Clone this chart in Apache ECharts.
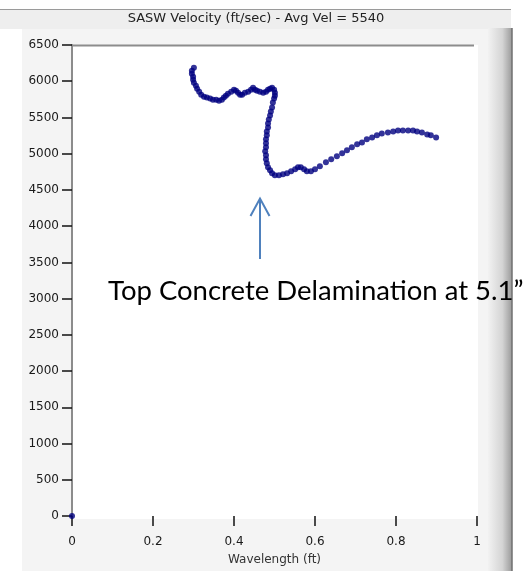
<!DOCTYPE html>
<html>
<head>
<meta charset="utf-8">
<script src="https://cdn.jsdelivr.net/npm/echarts@6/dist/echarts.min.js"></script>
<style>
  html, body { margin: 0; padding: 0; background: #fff; }
  #chart { width: 527px; height: 571px; }
</style>
</head>
<body>
<div id="chart"></div>
<script>
// SASW dispersion curve
const wavelength = [
  0,
  0.301, 0.296, 0.296, 0.299, 0.299, 0.301, 0.306, 0.309, 0.314, 0.319, 0.326, 0.333, 0.341, 0.348,
  0.356, 0.363, 0.370, 0.375, 0.380, 0.385, 0.393, 0.400, 0.405, 0.410, 0.415, 0.420, 0.427, 0.435,
  0.442, 0.447, 0.452, 0.457, 0.464, 0.472, 0.479, 0.484, 0.489, 0.494, 0.499, 0.501, 0.501, 0.499,
  0.496, 0.494, 0.491, 0.489, 0.486, 0.484, 0.484, 0.481, 0.481, 0.479, 0.479, 0.479, 0.477, 0.479,
  0.479, 0.481, 0.484, 0.489, 0.494, 0.501, 0.511, 0.521, 0.531, 0.541, 0.551, 0.558, 0.565, 0.573,
  0.580, 0.590, 0.600, 0.612,
  0.627, 0.640, 0.654, 0.667, 0.679, 0.691, 0.704, 0.716, 0.728, 0.741, 0.753, 0.765, 0.780, 0.793,
  0.805, 0.817, 0.830, 0.842, 0.852, 0.864, 0.877, 0.886, 0.899
]
const velocity = [
  0,
  6185, 6144, 6103, 6062, 6020, 5979, 5938, 5897, 5856, 5815, 5787, 5774, 5760, 5746,
  5746, 5732, 5746, 5774, 5801, 5828, 5856, 5883, 5870, 5842, 5815, 5815, 5842, 5856,
  5883, 5911, 5883, 5870, 5856, 5842, 5856, 5883, 5897, 5911, 5883, 5842, 5801, 5760,
  5705, 5636, 5582, 5527, 5472, 5417, 5362, 5307, 5253, 5198, 5143, 5088, 5033, 4978,
  4923, 4868, 4814, 4773, 4731, 4704, 4704, 4718, 4731, 4759, 4786, 4814, 4814, 4786,
  4759, 4759, 4786, 4827,
  4882, 4923, 4965, 5006, 5047, 5088, 5129, 5156, 5198, 5225, 5253, 5280, 5294, 5307,
  5321, 5321, 5321, 5321, 5307, 5294, 5266, 5253, 5225
]
const chartTitle = 'SASW Velocity (ft/sec) - Avg Vel = 5540'
const noteText = 'Top Concrete Delamination at 5.1\u201d'

const points = wavelength.map((w, i) => [w, velocity[i]])

const chart = echarts.init(document.getElementById('chart'))
const smallFont = { fontFamily: 'DejaVu Sans', fontSize: 12, color: '#1a1a1a' }

chart.setOption({
  animation: false,
  backgroundColor: '#fff',
  grid: {
    left: 72,
    top: 45,
    right: 50,
    bottom: 52,
    show: false
  },
  xAxis: {
    type: 'value',
    min: 0,
    max: 1,
    interval: 0.2,
    offset: 3,
    name: 'Wavelength (ft)',
    nameLocation: 'middle',
    nameGap: 35,
    nameTextStyle: { fontFamily: 'DejaVu Sans', fontSize: 12, color: '#333' },
    axisLine: { show: false },
    axisTick: { show: true, length: 10, lineStyle: { color: '#111', width: 1.5 } },
    axisLabel: Object.assign({ margin: 17 }, smallFont),
    splitLine: { show: false }
  },
  yAxis: {
    type: 'value',
    min: 0,
    max: 6500,
    interval: 500,
    axisLine: { show: true, lineStyle: { color: '#8c8c8c', width: 2 } },
    axisTick: { show: true, length: 10, lineStyle: { color: '#111', width: 1.5 } },
    axisLabel: Object.assign({ margin: 13, formatter: v => String(v) }, smallFont),
    splitLine: { show: false }
  },
  graphic: [
    // window chrome behind the plot
    { type: 'rect', z: -20, shape: { x: 0, y: 10, width: 511, height: 19 }, style: { fill: '#eeeeee' } },
    { type: 'line', z: -19, shape: { x1: 0, y1: 9.5, x2: 511, y2: 9.5 }, style: { stroke: '#9a9a9a', lineWidth: 1 } },
    { type: 'rect', z: -20, shape: { x: 22, y: 29, width: 468, height: 542 }, style: { fill: '#f4f4f4' } },
    {
      type: 'rect', z: -20, shape: { x: 488, y: 28, width: 24, height: 543 },
      style: {
        fill: new echarts.graphic.LinearGradient(0, 0, 1, 0, [
          { offset: 0, color: '#f2f2f2' },
          { offset: 0.6, color: '#d4d4d4' },
          { offset: 1, color: '#9a9a9a' }
        ])
      }
    },
    { type: 'line', z: -19, shape: { x1: 512, y1: 28, x2: 512, y2: 571 }, style: { stroke: '#707070', lineWidth: 1.5 } },
    { type: 'rect', z: -18, shape: { x: 72, y: 45, width: 406, height: 474 }, style: { fill: '#ffffff' } },
    { type: 'line', z: -17, shape: { x1: 72, y1: 45.5, x2: 474, y2: 45.5 }, style: { stroke: '#8c8c8c', lineWidth: 2 } },
    {
      type: 'text', z: 10, x: 256, y: 19,
      style: { text: chartTitle, fontFamily: 'DejaVu Sans', fontSize: 13, fill: '#222', align: 'center', verticalAlign: 'middle' }
    },
    // annotation
    {
      type: 'polyline', z: 50,
      shape: { points: [[260, 259], [260, 199]] },
      style: { stroke: '#4f81bd', lineWidth: 2, fill: null }
    },
    {
      type: 'polyline', z: 50,
      shape: { points: [[250.5, 216], [260, 198.5], [269.5, 216]] },
      style: { stroke: '#4f81bd', lineWidth: 2, fill: null }
    },
    {
      type: 'text', z: 50, x: 108, y: 291,
      style: { text: noteText, fontFamily: 'Lato', fontSize: 27.5, fill: '#000', verticalAlign: 'middle' }
    }
  ],
  series: [
    {
      type: 'scatter',
      data: points,
      symbol: 'circle',
      symbolSize: 6,
      itemStyle: { color: '#00007f' },
      clip: false
    }
  ]
})
</script>
</body>
</html>
